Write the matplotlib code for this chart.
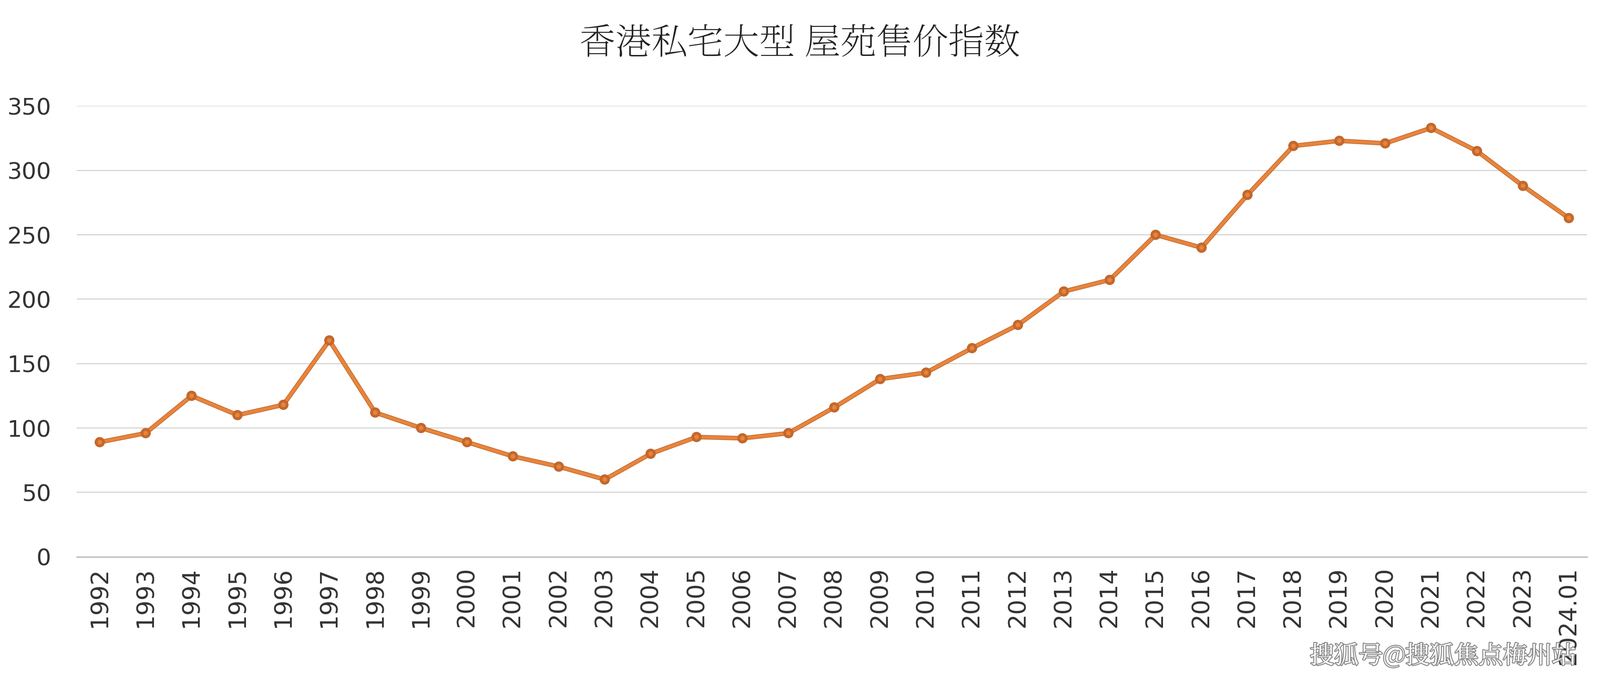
import matplotlib
matplotlib.use("Agg")
import matplotlib.pyplot as plt
import matplotlib.patheffects as pe
from matplotlib import font_manager as fm

years = ["1992","1993","1994","1995","1996","1997","1998","1999","2000","2001","2002","2003",
         "2004","2005","2006","2007","2008","2009","2010","2011","2012","2013","2014","2015",
         "2016","2017","2018","2019","2020","2021","2022","2023","2024.01"]
values = [89,96,125,110,118,168,112,100,89,78,70,60,80,93,92,96,116,138,143,162,180,206,215,250,
          240,281,319,323,321,333,315,288,263]
yticks = [0,50,100,150,200,250,300,350]

cjk = None
for f in fm.fontManager.ttflist:
    if "CJK" in f.name and ("SC" in f.name or cjk is None):
        cjk = f.name
        if "SC" in f.name:
            break
cjkfam = [cjk] if cjk else ["Noto Sans CJK SC"]

fig = plt.figure(figsize=(34.6,14.8), dpi=100)
ax = fig.add_axes([0.048,0.186,0.944,0.659])
x = list(range(len(years)))
ax.plot(x, values, color="#E8843C", lw=5, marker="o", ms=9, mfc="#E8843C", mec="#C8692A", mew=2,
        path_effects=[pe.Stroke(linewidth=7, foreground="#C0682E"), pe.Normal()], zorder=3)
ax.set_ylim(0,350)
ax.set_xlim(-0.5, len(years)-0.6)
ax.set_yticks(yticks)
ax.set_xticks(x)
ax.set_xticklabels(years, rotation=90, fontsize=37, color="#333333")
ax.tick_params(axis="y", labelsize=36, colors="#333333", length=0, pad=40)
ax.tick_params(axis="x", length=0, pad=16)
ax.grid(axis="y", color="#D0D0D0", lw=1.5)
for s in ["top","right","left"]:
    ax.spines[s].set_visible(False)
ax.spines["bottom"].set_color("#BBBBBB")
ax.spines["bottom"].set_linewidth(2)
fig.text(0.5,0.935,"香港私宅大型 屋苑售价指数", ha="center", va="center", fontsize=56,
         family=cjkfam, color="#222222", weight="light")
fig.text(0.985,0.04,"搜狐号@搜狐焦点梅州站", ha="right", va="center", fontsize=38,
         family=cjkfam, color="white",
         path_effects=[pe.withStroke(linewidth=3, foreground="#888888")])
fig.savefig("out.png")
